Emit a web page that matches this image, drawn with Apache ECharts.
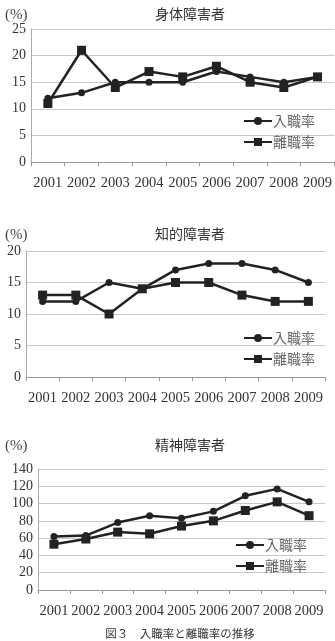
<!DOCTYPE html>
<html><head><meta charset="utf-8">
<script src="https://cdn.jsdelivr.net/npm/echarts@6/dist/echarts.min.js"></script>
<style>html,body{margin:0;padding:0;background:#fff}#c{width:335px;height:641px}</style>
</head><body><div id="c"></div>
<script>
const years = ['2001','2002','2003','2004','2005','2006','2007','2008','2009'];
const titles = ['身体障害者','知的障害者','精神障害者'];
const seriesNames = ['入職率','離職率'];
const physicalHire = [12, 13, 15, 15, 15, 17, 16, 15, 16];
const physicalLeave = [11, 21, 14, 17, 16, 18, 15, 14, 16];
const intellectualHire = [12, 12, 15, 14, 17, 18, 18, 17, 15];
const intellectualLeave = [13, 13, 10, 14, 15, 15, 13, 12, 12];
const mentalHire = [62, 63, 78, 86, 83, 91, 109, 117, 102];
const mentalLeave = [53, 59, 67, 65, 74, 80, 92, 102, 86];
const yMax = [25, 20, 140];
const yStep = [5, 5, 20];
const caption = '図３　入職率と離職率の推移';

const serif = '"Liberation Serif","DejaVu Serif",serif';
const cjk = '"Noto Sans CJK JP","Noto Sans",sans-serif';
const grids = [
  {left: 31, right: 0, top: 29, height: 133},
  {left: 26, right: 10, top: 251, height: 126},
  {left: 38, right: 10, top: 469, height: 121}
];
const data = [[physicalHire, physicalLeave],[intellectualHire, intellectualLeave],[mentalHire, mentalLeave]];
const titleTop = [2, 222, 433];
const legendTop = [109, 326, 533];
const legendLeft = [238, 238, 230];

const chart = echarts.init(document.getElementById('c'));
const option = {
  backgroundColor: '#fff',
  animation: false,
  title: [],
  legend: [],
  grid: grids,
  xAxis: [], yAxis: [], series: []
};
for (let i = 0; i < 3; i++) {
  option.title.push({text: titles[i], left: 185, top: titleTop[i], textAlign: 'center',
    textStyle: {fontFamily: cjk, fontSize: 14, fontWeight: 'normal', color: '#333'}});
  option.title.push({text: '(%)', left: 0, top: titleTop[i] + 1,
    textStyle: {fontFamily: serif, fontSize: 15, fontWeight: 'normal', color: '#444'}});
  option.legend.push({
    left: legendLeft[i], top: legendTop[i], orient: 'vertical', itemGap: 7,
    itemWidth: 28, itemHeight: 10,
    data: seriesNames,
    textStyle: {fontFamily: cjk, fontSize: 14, color: '#666', padding: [0,0,0,-4]}
  });
  option.xAxis.push({
    type: 'category', gridIndex: i, data: years, boundaryGap: true,
    axisLine: {lineStyle: {color: '#999'}},
    axisTick: {show: true, length: 4, lineStyle: {color: '#999'}},
    axisLabel: {fontFamily: serif, fontSize: 14.5, color: '#333', margin: 14, interval: 0}
  });
  option.yAxis.push({
    type: 'value', gridIndex: i, min: 0, max: yMax[i], interval: yStep[i],
    axisLine: {show: true, lineStyle: {color: '#aaa'}},
    axisTick: {show: false},
    splitLine: {lineStyle: {color: '#c8c8c8'}},
    axisLabel: {fontFamily: serif, fontSize: 14, color: '#333', margin: 5}
  });
  for (let s = 0; s < 2; s++) {
    option.series.push({
      name: seriesNames[s], type: 'line', xAxisIndex: i, yAxisIndex: i,
      data: data[i][s],
      symbol: s === 0 ? 'circle' : 'rect',
      symbolSize: s === 0 ? 7 : 9,
      lineStyle: {color: '#222', width: 2.5},
      itemStyle: {color: '#222'}
    });
  }
}
option.title.push({text: caption, left: 175, top: 623, textAlign: 'center',
  textStyle: {fontFamily: cjk, fontSize: 11.5, fontWeight: 'normal', color: '#333'}});
chart.setOption(option);
</script></body></html>
